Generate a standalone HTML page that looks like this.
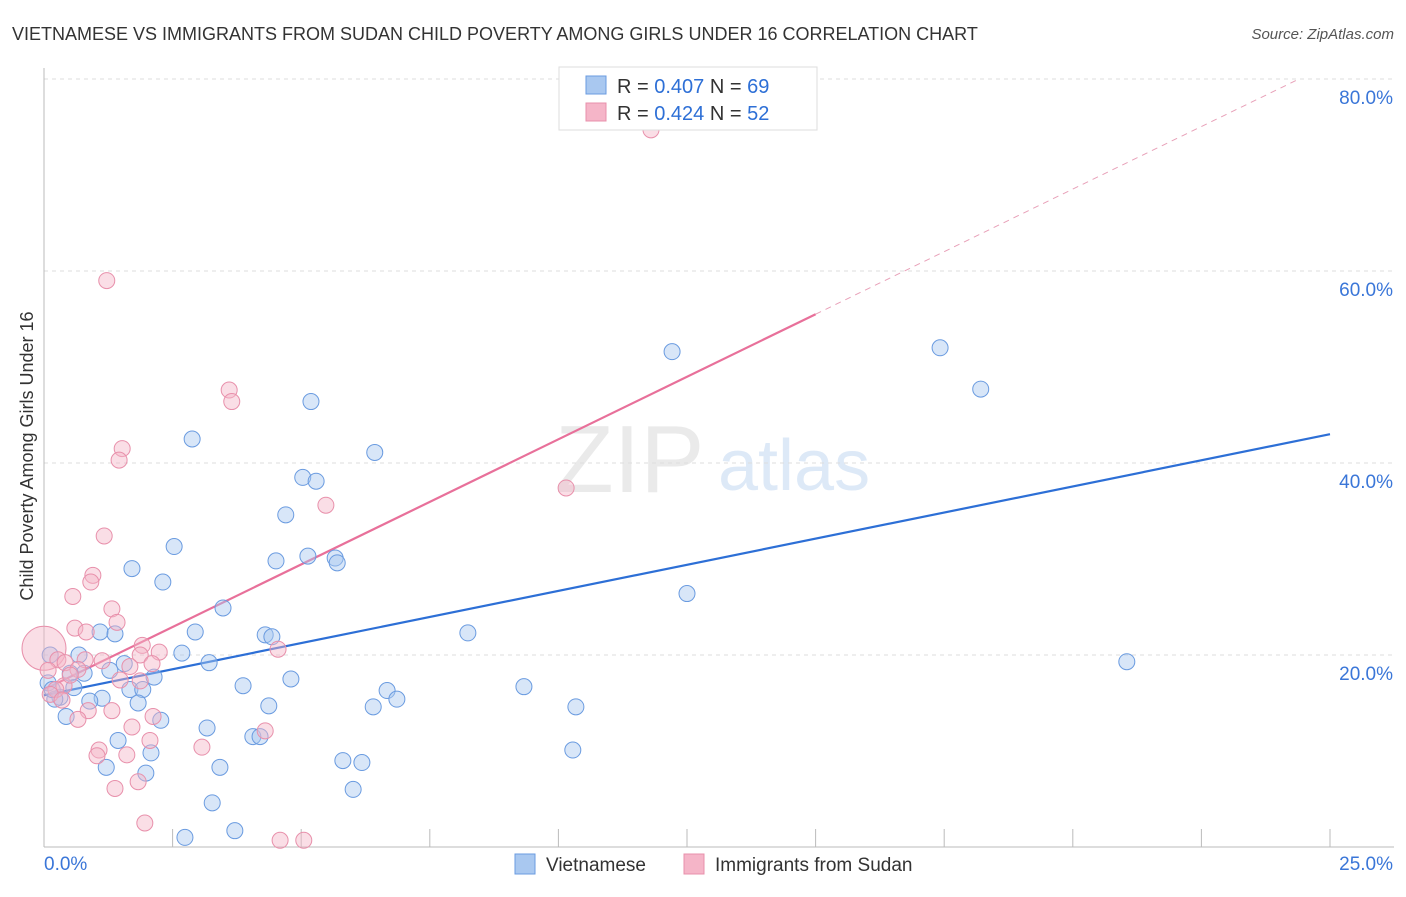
<!DOCTYPE html>
<html><head><meta charset="utf-8">
<style>
body{margin:0;background:#fff;font-family:"Liberation Sans",sans-serif;}
svg text{font-family:"Liberation Sans",sans-serif;}
</style></head>
<body>
<svg id="chart" width="1406" height="892" xmlns="http://www.w3.org/2000/svg">
<text x="12" y="40" font-size="18" fill="#333">VIETNAMESE VS IMMIGRANTS FROM SUDAN CHILD POVERTY AMONG GIRLS UNDER 16 CORRELATION CHART</text>
<text x="1394" y="39" font-size="15" fill="#555" text-anchor="end" font-style="italic">Source: ZipAtlas.com</text>
<text x="0" y="0" transform="translate(33,456) rotate(-90)" font-size="18" fill="#333" text-anchor="middle">Child Poverty Among Girls Under 16</text>
<g>
<text x="555" y="492" font-size="96" fill="#ddd" font-family="Liberation Serif" opacity="0.6">ZIP</text>
<text x="718" y="490" font-size="72" fill="#c8dbf3" opacity="0.6">atlas</text>
</g>
<g id="grid"></g><g id="axes"></g><g id="lines"></g><g id="pts"></g>
<g>
<rect x="559" y="67" width="258" height="63" fill="#fff" stroke="#ddd"/>
<rect x="586" y="76" width="20" height="18" fill="#a9c8f0" stroke="#6a9be0"/>
<text x="617" y="93" font-size="20" fill="#333">R = <tspan fill="#2d6fd6">0.407</tspan>   N = <tspan fill="#2d6fd6">69</tspan></text>
<rect x="586" y="103" width="20" height="18" fill="#f5b5c8" stroke="#e890ab"/>
<text x="617" y="120" font-size="20" fill="#333">R = <tspan fill="#2d6fd6">0.424</tspan>   N = <tspan fill="#2d6fd6">52</tspan></text>
</g>
<g>
<rect x="515" y="854" width="20" height="20" fill="#a9c8f0" stroke="#6a9be0"/>
<text x="546" y="871" font-size="19" fill="#333">Vietnamese</text>
<rect x="684" y="854" width="20" height="20" fill="#f5b5c8" stroke="#e890ab"/>
<text x="715" y="871" font-size="19" fill="#333">Immigrants from Sudan</text>
</g>
</svg>
<script>
const yTicks=[20,40,60,80];
const yTickLabels=["20.0%","40.0%","60.0%","80.0%"];
const xTicks=[0,2.5,5,7.5,10,12.5,15,17.5,20,22.5,25];
const blueX=[12.21,17.42,18.21,2.88,5.19,6.43,5.03,5.29,4.70,2.53,1.71,2.31,4.51,5.13,5.66,5.70,12.50,3.48,2.94,1.09,1.38,4.30,4.43,8.24,21.05,2.68,3.21,1.56,1.28,0.78,2.14,4.80,3.87,1.67,1.92,9.33,6.67,6.86,6.40,10.34,4.37,1.83,1.13,0.89,0.31,0.21,0.43,2.27,3.17,4.06,4.20,1.44,10.28,2.08,5.81,6.18,1.21,3.42,1.98,6.01,3.27,3.71,2.74,0.12,0.68,0.51,0.08,0.16,0.58];
const blueY=[51.6,52.0,47.7,42.5,46.4,41.1,38.5,38.1,34.6,31.3,29.0,27.6,29.8,30.3,30.1,29.6,26.4,24.9,22.4,22.4,22.2,22.1,21.9,22.3,19.3,20.2,19.2,19.1,18.4,18.1,17.7,17.5,16.8,16.4,16.4,16.7,16.3,15.4,14.6,14.6,14.7,15.0,15.5,15.2,15.6,15.4,13.6,13.2,12.4,11.5,11.5,11.1,10.1,9.8,9.0,8.8,8.3,8.3,7.7,6.0,4.6,1.7,1.0,20.0,20.0,18.1,17.1,16.4,16.6];
const pinkX=[11.80,1.22,3.60,3.65,1.52,1.46,10.15,5.48,1.17,0.95,0.91,0.56,1.32,1.42,0.60,0.82,1.91,2.24,1.87,4.55,0,0.27,1.13,0.80,0.41,2.10,1.67,0.66,1.87,0.39,0.51,0.23,0.12,1.32,0.86,2.12,0.66,1.71,4.30,2.06,1.07,1.03,1.61,3.07,1.83,1.38,1.96,4.59,5.05,0.35,1.48,0.08];
const pinkY=[74.7,59.0,47.6,46.4,41.5,40.3,37.4,35.6,32.4,28.3,27.6,26.1,24.8,23.4,22.8,22.4,21.0,20.3,20.0,20.6,20.7,19.5,19.4,19.5,19.2,19.1,18.8,18.5,17.3,16.8,17.9,16.4,15.9,14.2,14.2,13.6,13.3,12.5,12.1,11.1,10.1,9.5,9.6,10.4,6.8,6.1,2.5,0.7,0.7,15.3,17.4,18.4];
const blueLine=[15.8,43.0];
const pinkLine=[16.4,55.5];
const X0=44,X1=1330,Y0=847,Y80=79;
const sx=v=>X0+(X1-X0)*v/25;
const sy=v=>Y0-(Y0-Y80)*v/80;
const NS="http://www.w3.org/2000/svg";
function mk(tag,attrs,parent){const e=document.createElementNS(NS,tag);for(const k in attrs)e.setAttribute(k,attrs[k]);document.getElementById(parent).appendChild(e);return e;}
yTicks.forEach((t,i)=>{
 const g=mk('line',{x1:X0,x2:1394,y1:sy(t),y2:sy(t),stroke:'#ddd','stroke-dasharray':'4,4'},'grid');
 
 
 const l=mk('text',{x:1393,y:sy(t)+25,'font-size':19,fill:'#3a76d8','text-anchor':'end'},'axes');
 l.textContent=yTickLabels[i];
 
 
});
const ax=mk('line',{x1:X0,x2:X0,y1:68,y2:Y0,stroke:'#bbb'},'axes');


const bx=mk('line',{x1:X0,x2:1394,y1:Y0,y2:Y0,stroke:'#bbb'},'axes');


xTicks.forEach(t=>{
 const k=mk('line',{x1:sx(t),x2:sx(t),y1:Y0,y2:Y0-18,stroke:'#bbb'},'axes');
 
 
});
const xl0=mk('text',{x:44,y:870,'font-size':19,fill:'#3a76d8'},'axes');xl0.textContent='0.0%';


const xl1=mk('text',{x:1393,y:870,'font-size':19,fill:'#3a76d8','text-anchor':'end'},'axes');xl1.textContent='25.0%';


function pts(xs,ys,fill,stroke,name){xs.forEach((x,i)=>{
 const r=(name==='sudan-point'&&x===0)?22:8;
 const c=mk('circle',{cx:sx(x),cy:sy(ys[i]),r:r,fill:fill,'fill-opacity':0.45,stroke:stroke,'stroke-width':1},'pts');
 
 
});}
pts(blueX,blueY,'#a9c8f0','#6a9be0','vietnamese-point');
pts(pinkX,pinkY,'#f5b5c8','#e890ab','sudan-point');
const bl=mk('line',{x1:sx(0),y1:sy(blueLine[0]),x2:sx(25),y2:sy(blueLine[1]),stroke:'#2d6fd6','stroke-width':2.2},'lines');


const ps=(pinkLine[1]-pinkLine[0])/15;
const pl=mk('line',{x1:sx(0),y1:sy(pinkLine[0]),x2:sx(15),y2:sy(pinkLine[1]),stroke:'#e8709a','stroke-width':2.2},'lines');


const xe=(80-pinkLine[0])/ps;
const pd=mk('line',{x1:sx(15),y1:sy(pinkLine[1]),x2:sx(xe),y2:sy(80),stroke:'#e8a0b8','stroke-width':1,'stroke-dasharray':'6,5'},'lines');


</script>
</body></html>
